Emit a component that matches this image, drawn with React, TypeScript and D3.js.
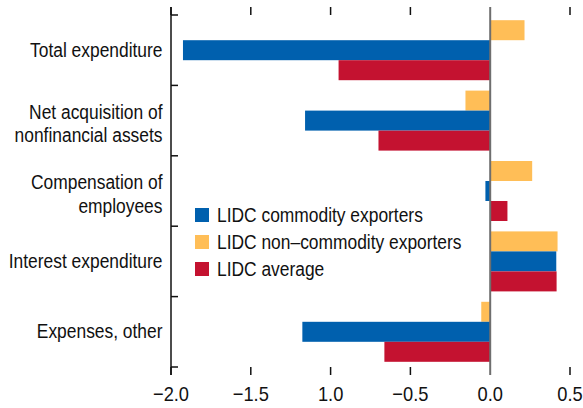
import React from "react";
import * as d3 from "d3";

const categories = [
  ["Total expenditure"],
  ["Net acquisition of", "nonfinancial assets"],
  ["Compensation of", "employees"],
  ["Interest expenditure"],
  ["Expenses, other"],
];
const seriesNames = ["LIDC commodity exporters", "LIDC non\u2013commodity exporters", "LIDC average"];
const commodity = [-1.925, -1.16, -0.03, 0.414, -1.177];
const nonCommodity = [0.215, -0.155, 0.263, 0.422, -0.056];
const average = [-0.95, -0.70, 0.108, 0.416, -0.663];
const tickValues = [-2.0, -1.5, -1.0, -0.5, 0.0, 0.5];
const tickLabels = ["\u22122.0", "\u22121.5", "1.0", "\u22120.5", "0.0", "0.5"];

const colors = { commodity: "#0060AE", nonCommodity: "#FFBE57", average: "#C41230" };
const FONT = "'Liberation Sans', Arial, sans-serif";
const SX = 0.87;

function NText(props: { x: number; y: number; anchor?: string; size: number; children: React.ReactNode }) {
  return (
    <text
      transform={`translate(${props.x},${props.y}) scale(${SX},1)`}
      textAnchor={props.anchor || "start"}
      fontSize={props.size}
      fill="#111"
    >
      {props.children}
    </text>
  );
}

export default function App() {
  const W = 583, H = 408;
  const x = d3.scaleLinear().domain([-2, 0.5]).range([171, 570]);
  const y = d3.scaleBand<number>().domain(d3.range(categories.length)).range([15, 367]).padding(0);
  const order = ["nonCommodity", "commodity", "average"];
  const sub = d3.scaleBand<string>().domain(order).range([0, y.bandwidth()]).paddingInner(0).paddingOuter(0.26);
  const data: Record<string, number[]> = { commodity, nonCommodity, average };
  const legend = [
    { key: "commodity", label: seriesNames[0] },
    { key: "nonCommodity", label: seriesNames[1] },
    { key: "average", label: seriesNames[2] },
  ];
  const boundaries = d3.range(categories.length + 1).map((i) => 15 + i * y.step());
  return (
    <svg width={W} height={H} style={{ position: "absolute", left: 0, top: 0, background: "#fff" }} fontFamily={FONT}>
      {categories.map((_, i) =>
        order.map((k) => {
          const v = data[k][i];
          return (
            <rect
              key={k + i}
              x={Math.min(x(v), x(0))}
              y={(y(i) as number) + (sub(k) as number)}
              width={Math.abs(x(v) - x(0))}
              height={sub.bandwidth()}
              fill={(colors as any)[k]}
            />
          );
        })
      )}
      <line x1={x(0)} x2={x(0)} y1={7} y2={375} stroke="#6e6e6e" strokeWidth={2} />
      <line x1={171} x2={171} y1={7} y2={375} stroke="#111" strokeWidth={1.5} />
      {boundaries.map((b, i) => (
        <line key={"yt" + i} x1={171} x2={178} y1={b} y2={b} stroke="#111" strokeWidth={1.5} />
      ))}
      {tickValues.map((t, i) =>
        t === 0 ? null : (
          <g key={"xt" + i}>
            <line x1={x(t)} x2={x(t)} y1={7} y2={15} stroke="#111" strokeWidth={1.5} />
            <line x1={x(t)} x2={x(t)} y1={367} y2={375} stroke="#111" strokeWidth={1.5} />
          </g>
        )
      )}
      {tickValues.map((t, i) => (
        <NText key={"xl" + i} x={x(t)} y={401} anchor="middle" size={21}>
          {tickLabels[i]}
        </NText>
      ))}
      {categories.map((lines, i) => {
        const c = (y(i) as number) + y.bandwidth() / 2;
        return lines.length === 1 ? (
          <NText key={"cl" + i} x={162.5} y={c + 6.5} anchor="end" size={20}>{lines[0]}</NText>
        ) : (
          <g key={"cl" + i}>
            {lines.map((l, j) => (
              <NText key={j} x={162.5} y={c - 2 + j * 23.5} anchor="end" size={20}>{l}</NText>
            ))}
          </g>
        );
      })}
      {legend.map((l, i) => (
        <g key={"lg" + i}>
          <rect x={195} y={208 + i * 27} width={14} height={14} fill={(colors as any)[l.key]} />
          <NText x={217} y={222 + i * 27} size={20}>{l.label}</NText>
        </g>
      ))}
    </svg>
  );
}
